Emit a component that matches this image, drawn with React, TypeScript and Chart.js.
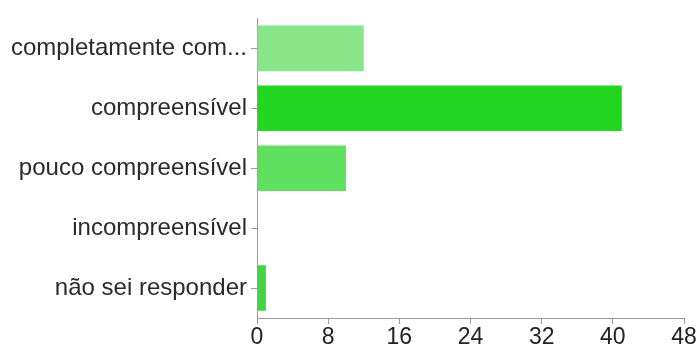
import React, { useEffect, useRef } from "react";
import { Chart, registerables } from "chart.js";

Chart.register(...registerables);

const categories = [
  "completamente com...",
  "compreensível",
  "pouco compreensível",
  "incompreensível",
  "não sei responder",
];
const values = [12, 41, 10, 0, 1];
const barColors = ["#88e688", "#22d622", "#5fe05f", "#33cc33", "#44d444"];
const xMin = 0;
const xMax = 48;
const xStep = 8;

export default function App() {
  const ref = useRef<HTMLCanvasElement | null>(null);
  useEffect(() => {
    if (!ref.current) return;
    const family = "'Liberation Sans', Arial, sans-serif";
    const chart = new Chart(ref.current, {
      type: "bar",
      data: {
        labels: categories,
        datasets: [
          {
            data: values,
            backgroundColor: barColors,
            borderWidth: 0,
            categoryPercentage: 0.76,
            barPercentage: 1,
          },
        ],
      },
      options: {
        indexAxis: "y",
        animation: false,
        responsive: false,
        maintainAspectRatio: false,
        layout: { padding: { top: 13, right: 15, left: 0, bottom: 0 } },
        plugins: { legend: { display: false }, tooltip: { enabled: false } },
        scales: {
          x: {
            min: xMin,
            max: xMax,
            ticks: { stepSize: xStep, color: "#222", font: { family, size: 23 }, padding: 0, maxRotation: 0 },
            grid: { drawOnChartArea: false, drawTicks: true, tickLength: 6, color: "#999" },
            border: { display: true, color: "#999" },
            afterFit: (s: any) => {
              s.height = 30;
            },
          },
          y: {
            ticks: { color: "#2a2a2a", font: { family, size: 24 }, padding: 4 },
            grid: { offset: false, drawOnChartArea: false, drawTicks: true, tickLength: 6, color: "#999" },
            border: { display: true, color: "#999" },
            afterFit: (s: any) => {
              s.width = 257;
            },
          },
        },
      },
    });
    return () => chart.destroy();
  }, []);
  return (
    <div style={{ position: "fixed", left: 0, top: 0, width: 699, height: 348, background: "#fff" }}>
      <canvas ref={ref} width={699} height={348} style={{ width: 699, height: 348, display: "block" }} />
    </div>
  );
}
